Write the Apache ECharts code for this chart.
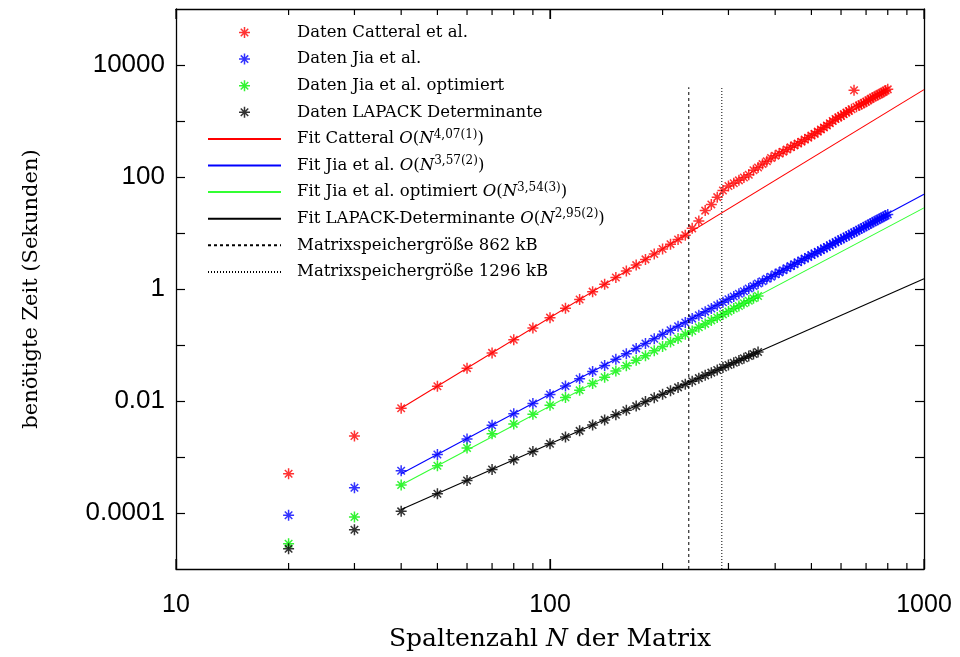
<!DOCTYPE html>
<html>
<head>
<meta charset="utf-8">
<script src="https://cdn.jsdelivr.net/npm/echarts@6/dist/echarts.min.js"></script>
<style>
  html, body { margin: 0; padding: 0; background: #fff; }
  #chart { width: 960px; height: 657px; }
</style>
</head>
<body>
<div id="chart"></div>
<script>
// Matrix sizes N (number of columns)
const nFull = [20, 30, 40, 50, 60, 70, 80, 90, 100, 110, 120, 130, 140, 150, 160, 170, 180, 190, 200,
  210, 220, 230, 240, 250, 260, 270, 280, 290, 300, 310, 320, 330, 340, 350, 360, 370, 380, 390, 400,
  410, 420, 430, 440, 450, 460, 470, 480, 490, 500, 510, 520, 530, 540, 550, 560, 570, 580, 590, 600,
  610, 620, 630, 640, 650, 660, 670, 680, 690, 700, 710, 720, 730, 740, 750, 760, 770, 780, 790, 800];
const nShort = [20, 30, 40, 50, 60, 70, 80, 90, 100, 110, 120, 130, 140, 150, 160, 170, 180, 190, 200,
  210, 220, 230, 240, 250, 260, 270, 280, 290, 300, 310, 320, 330, 340, 350, 360];

// Measured run times in seconds
const timeCatteral = [5.01e-4, 2.37e-3, 7.41e-3, 0.0184, 0.0386, 0.0723, 0.1245, 0.201, 0.308, 0.455,
  0.649, 0.897, 1.21, 1.61, 2.09, 2.67, 3.38, 4.21, 5.19, 6.32, 7.64, 9.16, 12.1, 16.4, 25.1, 32.4,
  43.7, 57.5, 69.2, 77.6, 87.1, 97.7, 110, 132, 148, 170, 191, 219, 240, 263, 282, 309, 339, 367, 398,
  427, 468, 501, 550, 589, 646, 708, 767, 832, 912, 1000, 1084, 1161, 1230, 1318, 1413, 1514, 1622,
  3548, 1799, 1884, 1995, 2089, 2213, 2344, 2483, 2630, 2754, 2884, 3020, 3162, 3311, 3508, 3673];
const timeJia = [9.12e-5, 2.82e-4, 5.7e-4, 1.11e-3, 2.10e-3, 3.70e-3, 5.90e-3, 9.0e-3, 0.0131, 0.0185,
  0.0250, 0.0335, 0.0432, 0.0555, 0.0695, 0.087, 0.106, 0.129, 0.155, 0.183, 0.217, 0.253, 0.296, 0.340,
  0.394, 0.448, 0.513, 0.578, 0.655, 0.733, 0.825, 0.913, 1.02, 1.13, 1.25, 1.38, 1.53, 1.66, 1.83,
  1.98, 2.17, 2.35, 2.56, 2.76, 3.00, 3.22, 3.49, 3.74, 4.04, 4.32, 4.63, 4.94, 5.31, 5.64, 6.04, 6.42,
  6.83, 7.25, 7.72, 8.16, 8.66, 9.15, 9.71, 10.2, 10.8, 11.4, 12.0, 12.7, 13.3, 14.0, 14.8, 15.5, 16.3,
  17.1, 17.9, 18.7, 19.6, 20.5, 21.5];
const timeJiaOpt = [2.82e-5, 8.51e-5, 3.16e-4, 6.97e-4, 1.45e-3, 2.6e-3, 3.9e-3, 5.8e-3, 8.4e-3, 0.0115,
  0.0155, 0.0206, 0.0265, 0.0342, 0.0425, 0.0532, 0.0645, 0.079, 0.094, 0.113, 0.131, 0.156, 0.178,
  0.208, 0.238, 0.275, 0.309, 0.352, 0.395, 0.447, 0.497, 0.556, 0.615, 0.686, 0.752];
const timeLapack = [2.29e-5, 5.01e-5, 1.07e-4, 2.2e-4, 3.8e-4, 6.0e-4, 8.9e-4, 1.25e-3, 1.72e-3, 2.27e-3,
  2.93e-3, 3.72e-3, 4.6e-3, 5.7e-3, 6.85e-3, 8.1e-3, 9.75e-3, 0.0114, 0.0132, 0.0153, 0.0175, 0.0200,
  0.0226, 0.0256, 0.0287, 0.0321, 0.0357, 0.0396, 0.0438, 0.0482, 0.0530, 0.0580, 0.0634, 0.0690, 0.0750];

// Power-law fits, drawn between N = 40 and N = 1000
const fitN = [40, 1000];
const fitCatteral = [7.41e-3, 3630];
const fitJia = [5.01e-4, 49.1];
const fitJiaOpt = [3.16e-4, 28.1];
const fitLapack = [1.15e-4, 1.53];

// Matrix sizes at which the matrix fills 862 kB and 1296 kB
const memN862 = [235, 235];
const memN1296 = [288, 288];
const memTime = [1e-5, 4000];

// Axis ticks and labels
const xMajorTicks = [10, 100, 1000];
const xTickLabels = ['10', '100', '1000'];
const xAllTicks = [10, 20, 30, 40, 50, 60, 70, 80, 90, 100, 200, 300, 400, 500, 600, 700, 800, 900, 1000];
const yLabelValues = [1e-4, 1e-2, 1, 100, 10000];
const yTickLabels = ['0.0001', '0.01', '1', '100', '10000'];
const yTickMarks = [1e-4, 1e-3, 1e-2, 1e-1, 1, 10, 100, 1000, 10000];
const yRange = [1e-5, 1e5];

// Legend texts
const seriesNames = [
  'Daten Catteral et al.',
  'Daten Jia et al.',
  'Daten Jia et al. optimiert',
  'Daten LAPACK Determinante',
  'Fit Catteral',
  'Fit Jia et al.',
  'Fit Jia et al. optimiert',
  'Fit LAPACK-Determinante',
  'Matrixspeichergröße 862 kB',
  'Matrixspeichergröße 1296 kB'
];
const fitExponents = ['4,07(1)', '3,57(2)', '3,54(3)', '2,95(2)'];

const colors = ['#ff0000', '#0000ff', '#00f000', '#000000'];
const fitGreen = '#33ff33';

// Eight-armed asterisk marker
const STAR = 'path://M5,0L5,10M0,5L10,5M1.6,1.6L8.4,8.4M1.6,8.4L8.4,1.6';

function pickLabel(v, values, labels) {
  for (let i = 0; i < values.length; i++) {
    if (Math.abs(Math.log10(v) - Math.log10(values[i])) < 1e-6) return labels[i];
  }
  return '';
}

function zip(xs, ys) { return xs.map((x, i) => [x, ys[i]]); }

const serifFont = '"DejaVu Serif", "Liberation Serif", serif';
const sansFont = '"Liberation Sans", Arial, sans-serif';

function scatterSeries(name, ns, ts, color) {
  return {
    name: name, type: 'scatter', data: zip(ns, ts),
    symbol: STAR, symbolSize: 11,
    itemStyle: { color: color, borderColor: color, borderWidth: 1.5 },
    emphasis: { disabled: true }, silent: true
  };
}
function fitSeries(name, ts, color) {
  return {
    name: name, type: 'line', data: zip(fitN, ts), symbol: 'none',
    lineStyle: { color: color, width: 1.1 }, itemStyle: { color: color },
    emphasis: { disabled: true }, silent: true
  };
}
function memSeries(name, ns, type) {
  return {
    name: name, type: 'line', data: zip(ns, memTime), symbol: 'none',
    lineStyle: { color: '#000', width: 1, type: type }, itemStyle: { color: '#000' },
    emphasis: { disabled: true }, silent: true
  };
}

// Inward tick marks on the bottom and top frame, placed through the x scale
const frameTicks = {
  type: 'custom', name: 'x-ticks', silent: true, clip: false, z: 3,
  data: xAllTicks.map(v => [v, 1]),
  renderItem: function (params, api) {
    const v = api.value(0);
    const len = xMajorTicks.indexOf(v) >= 0 ? 10 : 6;
    const b = api.coord([v, yRange[0]]);
    const t = api.coord([v, yRange[1]]);
    const st = { stroke: '#000', lineWidth: 1.2 };
    return {
      type: 'group',
      children: [
        { type: 'line', shape: { x1: b[0], y1: b[1], x2: b[0], y2: b[1] - len }, style: st },
        { type: 'line', shape: { x1: t[0], y1: t[1], x2: t[0], y2: t[1] + len }, style: st }
      ]
    };
  }
};

const series = [
  scatterSeries(seriesNames[0], nFull, timeCatteral, colors[0]),
  scatterSeries(seriesNames[1], nFull, timeJia, colors[1]),
  scatterSeries(seriesNames[2], nShort, timeJiaOpt, colors[2]),
  scatterSeries(seriesNames[3], nShort, timeLapack, colors[3]),
  fitSeries(seriesNames[4], fitCatteral, colors[0]),
  fitSeries(seriesNames[5], fitJia, colors[1]),
  fitSeries(seriesNames[6], fitJiaOpt, fitGreen),
  fitSeries(seriesNames[7], fitLapack, colors[3]),
  memSeries(seriesNames[8], memN862, [3, 3]),
  memSeries(seriesNames[9], memN1296, [1, 2]),
  frameTicks
];

const axisLineStyle = { color: '#000', width: 1.3 };
const tickLineStyle = { color: '#000', width: 1.2 };

function xAxisDef(position, showLabel) {
  return {
    type: 'log', logBase: 10, min: 10, max: 1000, position: position,
    axisLine: { show: true, onZero: false, lineStyle: axisLineStyle },
    axisTick: { show: true, inside: true, length: 10, customValues: xMajorTicks, lineStyle: tickLineStyle },
    axisLabel: showLabel ? {
      show: true, customValues: xMajorTicks, margin: 24,
      fontFamily: sansFont, fontSize: 25, color: '#000',
      formatter: v => pickLabel(v, xMajorTicks, xTickLabels)
    } : { show: false },
    splitLine: { show: false }, minorTick: { show: false }
  };
}
function yAxisDef(position, showLabel) {
  return {
    type: 'log', logBase: 10, min: yRange[0], max: yRange[1], position: position,
    axisLine: { show: true, onZero: false, lineStyle: axisLineStyle },
    axisTick: { show: true, inside: true, length: 9, customValues: yTickMarks, lineStyle: tickLineStyle },
    axisLabel: showLabel ? {
      show: true, customValues: yLabelValues, margin: 11,
      fontFamily: sansFont, fontSize: 26, color: '#000',
      formatter: v => pickLabel(v, yLabelValues, yTickLabels)
    } : { show: false },
    splitLine: { show: false }, minorTick: { show: false }
  };
}

const xAxes = [xAxisDef('bottom', true), xAxisDef('top', false)];
xAxes[0].name = 'Spaltenzahl {it|N} der Matrix';
xAxes[0].nameLocation = 'middle';
xAxes[0].nameGap = 58;
xAxes[0].nameTextStyle = {
  fontFamily: serifFont, fontSize: 25, color: '#000',
  rich: { it: { fontFamily: serifFont, fontStyle: 'italic', fontSize: 25, color: '#000' } }
};

const yAxes = [yAxisDef('left', true), yAxisDef('right', false)];
yAxes[0].name = 'benötigte Zeit (Sekunden)';
yAxes[0].nameLocation = 'middle';
yAxes[0].nameGap = 134;
yAxes[0].nameRotate = 90;
yAxes[0].nameTextStyle = { fontFamily: serifFont, fontSize: 21, color: '#000' };

function legendText(name) {
  const idx = seriesNames.indexOf(name);
  if (idx >= 4 && idx <= 7) {
    return '{g|\u00a0}' + name + ' {o|O}({it|N}{sup|' + fitExponents[idx - 4] + '})';
  }
  return '{g|\u00a0}' + name;
}

// Line entries show only their stroke, without a marker in the middle
const legendData = seriesNames.map((name, i) =>
  i >= 4 ? { name: name, itemStyle: { opacity: 0 } } : { name: name });

const chart = echarts.init(document.getElementById('chart'), null, { renderer: 'canvas' });
chart.setOption({
  animation: false,
  backgroundColor: '#fff',
  grid: { left: 176, right: 36, top: 9, bottom: 88, containLabel: false },
  xAxis: xAxes,
  yAxis: yAxes,
  legend: {
    data: legendData,
    orient: 'vertical', left: 207, top: 22, padding: 0,
    itemWidth: 73, itemHeight: 11, itemGap: 5.6,
    selectedMode: false,
    itemStyle: { borderWidth: 1.5 },
    formatter: legendText,
    textStyle: {
      fontFamily: serifFont, fontSize: 16.5, color: '#000', lineHeight: 21,
      rich: {
        g: { width: 11, lineHeight: 21 },
        o: { fontFamily: serifFont, fontStyle: 'italic', fontSize: 16.5, lineHeight: 21, color: '#000' },
        it: { fontFamily: serifFont, fontStyle: 'italic', fontSize: 16.5, lineHeight: 21, color: '#000' },
        sup: { fontFamily: serifFont, fontSize: 12, lineHeight: 10, verticalAlign: 'top', color: '#000' }
      }
    }
  },
  series: series
});
</script>
</body>
</html>
